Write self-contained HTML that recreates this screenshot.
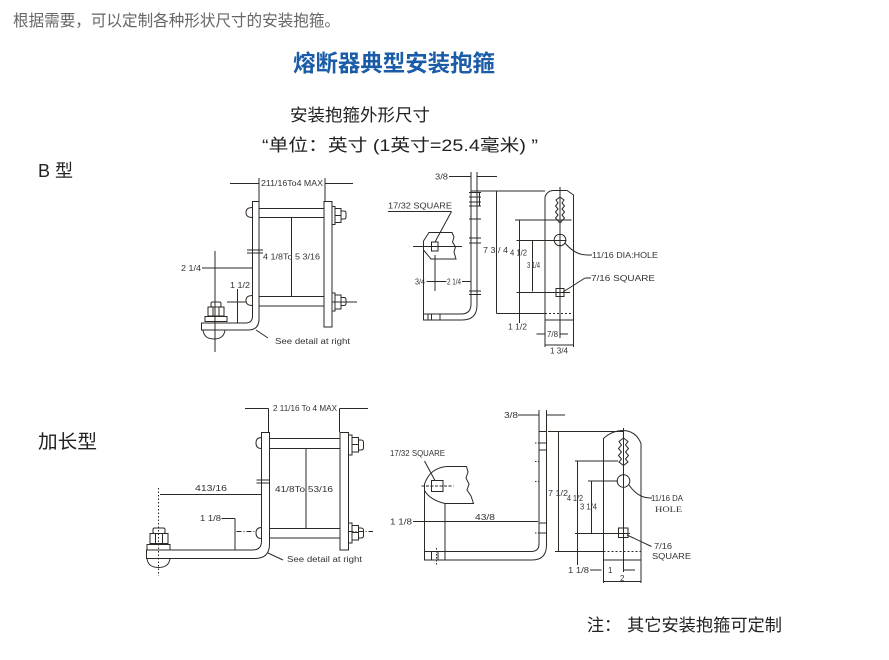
<!DOCTYPE html>
<html><head><meta charset="utf-8">
<style>
html,body{margin:0;padding:0;background:#fff;}
svg{display:block;}
</style></head><body>
<svg width="889" height="660" viewBox="0 0 889 660" xmlns="http://www.w3.org/2000/svg">
<!-- Header texts -->
<text x="13" y="26" font-size="16" fill="#666" font-family="'Liberation Sans','Noto Sans CJK SC',sans-serif" textLength="327" lengthAdjust="spacingAndGlyphs">根据需要，可以定制各种形状尺寸的安装抱箍。</text>
<text x="293" y="71" font-size="23" font-weight="bold" fill="#1a5ca8" font-family="'Liberation Sans','Noto Sans CJK SC',sans-serif" textLength="202" lengthAdjust="spacingAndGlyphs">熔断器典型安装抱箍</text>
<text x="290" y="121" font-size="17" fill="#222" font-family="'Liberation Sans','Noto Sans CJK SC',sans-serif" textLength="140" lengthAdjust="spacingAndGlyphs">安装抱箍外形尺寸</text>
<text x="262" y="151" font-size="17" fill="#222" font-family="'Liberation Sans','Noto Sans CJK SC',sans-serif" textLength="276" lengthAdjust="spacingAndGlyphs">“单位：英寸 (1英寸=25.4毫米) ”</text>
<text x="38" y="177" font-size="18" fill="#222" font-family="'Liberation Sans','Noto Sans CJK SC',sans-serif">B 型</text>
<text x="38" y="448" font-size="19" fill="#222" font-family="'Liberation Sans','Noto Sans CJK SC',sans-serif" textLength="59" lengthAdjust="spacingAndGlyphs">加长型</text>
<text x="587" y="631" font-size="17" fill="#222" font-family="'Liberation Sans','Noto Sans CJK SC',sans-serif">注：</text>
<text x="627" y="631" font-size="17" fill="#222" font-family="'Liberation Sans','Noto Sans CJK SC',sans-serif" textLength="155" lengthAdjust="spacingAndGlyphs">其它安装抱箍可定制</text>

<!-- ============ B type LEFT ============ -->
<g fill="none" stroke="#2e2824" stroke-width="1">
<path d="M252.5,201.5 L252.5,316 Q252.5,323 245.5,323 L201.5,323 L201.5,330 L248,330 Q259,330 259,319 L259,201.5 Z"/>
<rect x="259" y="208.5" width="65" height="9"/>
<rect x="259" y="296.5" width="65" height="9.5"/>
<rect x="324" y="201.5" width="8" height="125.5"/>
<rect x="332" y="206.5" width="3" height="18"/>
<rect x="335" y="208.5" width="6" height="14"/>
<line x1="335" y1="215.5" x2="341" y2="215.5"/>
<path d="M341,211 L344,211 Q346,211 346,213 L346,217 Q346,219 344,219 L341,219"/>
<rect x="332" y="293" width="3" height="18"/>
<rect x="335" y="295" width="6" height="14"/>
<line x1="335" y1="302" x2="341" y2="302"/>
<path d="M341,297.5 L344,297.5 Q346,297.5 346,299.5 L346,303.5 Q346,305.5 344,305.5 L341,305.5"/>
<path d="M252.5,207.5 Q246,207.5 246,212.5 Q246,217.5 252.5,217.5"/>
<path d="M252.5,295.5 Q246,295.5 246,300.5 Q246,305.5 252.5,305.5"/>
<line x1="291.5" y1="217.5" x2="291.5" y2="296.5"/>
<line x1="247" y1="250" x2="263" y2="250"/>
<line x1="247" y1="253" x2="263" y2="253"/>
<line x1="230" y1="183.5" x2="259" y2="183.5"/>
<line x1="325" y1="183.5" x2="353" y2="183.5"/>
<line x1="259" y1="178" x2="259" y2="201.5"/>
<line x1="325" y1="178" x2="325" y2="201.5"/>
<line x1="202" y1="268" x2="252.5" y2="268"/>
<line x1="215" y1="251" x2="215" y2="352"/>
<line x1="237.5" y1="289" x2="237.5" y2="323"/>
<line x1="227" y1="302" x2="246" y2="302"/>
<line x1="332" y1="302" x2="357" y2="302"/>
<rect x="211" y="302" width="10" height="5" rx="1.5"/>
<rect x="208" y="307" width="16" height="9"/>
<line x1="213" y1="307" x2="213" y2="316"/>
<line x1="219" y1="307" x2="219" y2="316"/>
<rect x="205" y="316.5" width="22" height="5"/>
<path d="M203,330 Q204,339 214,339 Q224,339 225,330"/>
<line x1="256" y1="330" x2="268" y2="338"/>
</g>
<g font-family="'Liberation Sans',sans-serif" font-size="8" fill="#333">
<text x="261" y="186" textLength="62" lengthAdjust="spacingAndGlyphs">211/16To4 MAX</text>
<text x="263" y="259.5" textLength="57" lengthAdjust="spacingAndGlyphs">4 1/8To  5 3/16</text>
<text x="181" y="271" textLength="20" lengthAdjust="spacingAndGlyphs">2 1/4</text>
<text x="230" y="288" textLength="20" lengthAdjust="spacingAndGlyphs">1 1/2</text>
<text x="275" y="344" textLength="75" lengthAdjust="spacingAndGlyphs">See detail at right</text>
</g>

<!-- ============ B type RIGHT ============ -->
<g fill="none" stroke="#2e2824" stroke-width="1">
<line x1="449" y1="176.5" x2="471" y2="176.5"/>
<line x1="477" y1="176.5" x2="497" y2="176.5"/>
<line x1="471" y1="172" x2="471" y2="191"/>
<line x1="477" y1="172" x2="477" y2="191"/>
<path d="M471,191 L471,304 Q471,314 461,314 L423.5,314 L423.5,320 L462,320 Q477,320 477,305 L477,191 Z"/>
<line x1="471" y1="191" x2="545" y2="191"/>
<line x1="428" y1="314" x2="428" y2="320"/>
<line x1="431.5" y1="314" x2="431.5" y2="320"/>
<line x1="440" y1="314" x2="440" y2="320"/>
<g>
<line x1="469" y1="192.5" x2="481" y2="192.5"/>
<line x1="469" y1="197" x2="481" y2="197"/>
<line x1="469" y1="202" x2="481" y2="202"/>
<line x1="469" y1="206" x2="481" y2="206"/>
<line x1="469" y1="219" x2="481" y2="219"/>
<line x1="469" y1="238" x2="481" y2="238"/>
<line x1="469" y1="243" x2="481" y2="243"/>
<line x1="469" y1="291" x2="481" y2="291"/>
<line x1="469" y1="294.5" x2="481" y2="294.5"/>
<line x1="479.5" y1="192" x2="479.5" y2="206"/>
</g>
<path d="M423.5,314 L423.5,241 L429,232.5 L452,232.5 L454,237 L452.5,242 L455.5,247 L454,252 L456,259 L431,259 L423.5,250"/>
<rect x="431.5" y="242" width="6.5" height="9"/>
<line x1="413" y1="246.5" x2="462" y2="246.5"/>
<line x1="435" y1="242" x2="451.5" y2="211.5"/>
<line x1="388" y1="211.5" x2="451.5" y2="211.5"/>
<line x1="435" y1="255" x2="435" y2="291"/>
<line x1="426.5" y1="281.5" x2="446.5" y2="281.5"/>
<line x1="462" y1="281.5" x2="471" y2="281.5"/>
<line x1="496.5" y1="191" x2="496.5" y2="313.5"/>
<line x1="496.5" y1="313.5" x2="545" y2="313.5"/>
<line x1="545" y1="313.5" x2="573.5" y2="313.5" stroke-dasharray="2 2"/>
<line x1="519.5" y1="220" x2="519.5" y2="323"/>
<line x1="515" y1="220" x2="571.5" y2="220"/>
<line x1="532.5" y1="240.5" x2="532.5" y2="291.5"/>
<line x1="516.5" y1="240.5" x2="566.5" y2="240.5"/>
<line x1="516.5" y1="292.5" x2="570" y2="292.5"/>
<path d="M545,347 L545,197 Q547,191 553,190.5 L567,190.5 L573.5,195 L573.5,347"/>
<line x1="545" y1="320" x2="573.5" y2="320"/>
<line x1="560" y1="187" x2="560" y2="338"/>
<path d="M560,197 L556,200 L558,203 L555.5,206 L558,209 L555.5,212 L558,215 L555.5,218 L560,223 L564.5,218 L562,215 L564.5,212 L562,209 L564.5,206 L562,203 L564,200 Z"/>
<circle cx="560" cy="240" r="5.8"/>
<rect x="556" y="288.5" width="8" height="8"/>
<path d="M565,243 Q575,255 587,255 L592,255"/>
<line x1="563" y1="292" x2="585" y2="278"/>
<line x1="585" y1="278" x2="591" y2="278"/>
<line x1="536.5" y1="334" x2="545" y2="334"/>
<line x1="560" y1="334" x2="568" y2="334"/>
<line x1="545" y1="345" x2="573.5" y2="345"/>
</g>
<g font-family="'Liberation Sans',sans-serif" font-size="8" fill="#333">
<text x="435" y="179.5" textLength="13" lengthAdjust="spacingAndGlyphs">3/8</text>
<text x="388" y="208.5" textLength="64" lengthAdjust="spacingAndGlyphs">17/32 SQUARE</text>
<text x="415" y="284.5" textLength="10" lengthAdjust="spacingAndGlyphs">3/4</text>
<text x="447" y="284.5" textLength="14" lengthAdjust="spacingAndGlyphs">2 1/4</text>
<rect x="484" y="245" width="9" height="8" fill="#fff"/>
<text x="483" y="253" textLength="25" lengthAdjust="spacingAndGlyphs">7 3 / 4</text>
<text x="510" y="255.5" textLength="17" lengthAdjust="spacingAndGlyphs">4 1/2</text>
<text x="527" y="268" textLength="13" lengthAdjust="spacingAndGlyphs">3 1/4</text>
<text x="508" y="329.5" textLength="19" lengthAdjust="spacingAndGlyphs">1 1/2</text>
<text x="547" y="337" textLength="11" lengthAdjust="spacingAndGlyphs">7/8</text>
<text x="550" y="353.5" textLength="18" lengthAdjust="spacingAndGlyphs">1 3/4</text>
<text x="592" y="258" textLength="66" lengthAdjust="spacingAndGlyphs">11/16 DIA:HOLE</text>
<text x="591" y="281" textLength="64" lengthAdjust="spacingAndGlyphs">7/16 SQUARE</text>
</g>

<!-- ============ LONG type LEFT ============ -->
<g fill="none" stroke="#2e2824" stroke-width="1">
<line x1="245" y1="408.5" x2="268.5" y2="408.5"/>
<line x1="339.5" y1="408.5" x2="368" y2="408.5"/>
<line x1="268.5" y1="408.5" x2="268.5" y2="432"/>
<line x1="339.5" y1="408.5" x2="339.5" y2="432"/>
<path d="M261.5,432.5 L261.5,541 Q261.5,550 252.5,550 L146.5,550 L146.5,558.5 L255,558.5 Q269.5,558.5 269.5,544 L269.5,432.5 Z"/>
<rect x="269.5" y="438.5" width="70.5" height="10"/>
<rect x="269.5" y="528.5" width="70.5" height="9.5"/>
<rect x="340" y="432.5" width="8.5" height="117.5"/>
<line x1="306" y1="448.5" x2="306" y2="528.5"/>
<rect x="348.5" y="435" width="3.5" height="20"/>
<rect x="352" y="437.5" width="6.5" height="14.5"/>
<line x1="352" y1="444.5" x2="358.5" y2="444.5"/>
<path d="M358.5,440 L361,440 Q363.5,440 363.5,442.5 L363.5,447.5 Q363.5,450 361,450 L358.5,450"/>
<rect x="348.5" y="523" width="3.5" height="20"/>
<rect x="352" y="525.5" width="6.5" height="14.5"/>
<line x1="352" y1="532.5" x2="358.5" y2="532.5"/>
<path d="M358.5,528 L361,528 Q363.5,528 363.5,530.5 L363.5,535.5 Q363.5,538 361,538 L358.5,538"/>
<path d="M261.5,437.5 Q256,437.5 256,443 Q256,448.5 261.5,448.5"/>
<path d="M261.5,527.5 Q256,527.5 256,533 Q256,538.5 261.5,538.5"/>
<line x1="256.5" y1="480" x2="270" y2="480"/>
<line x1="256.5" y1="483" x2="270" y2="483"/>
<line x1="160" y1="494.5" x2="261.5" y2="494.5"/>
<line x1="158.5" y1="488" x2="158.5" y2="576" stroke-dasharray="1.5 2"/>
<line x1="221.5" y1="518.5" x2="235" y2="518.5"/>
<line x1="235" y1="518.5" x2="235" y2="550"/>
<line x1="236.5" y1="531.5" x2="256" y2="531.5" stroke-dasharray="5 2 1 2"/>
<line x1="348.5" y1="531.5" x2="373" y2="531.5" stroke-dasharray="5 2 1 2"/>
<rect x="153" y="528" width="12" height="5.5" rx="1.5"/>
<rect x="150" y="533.5" width="18" height="10"/>
<line x1="155.5" y1="533.5" x2="155.5" y2="543.5"/>
<line x1="162.5" y1="533.5" x2="162.5" y2="543.5"/>
<rect x="147" y="544.5" width="23" height="5.5"/>
<path d="M147,558.5 Q148,567.5 158.5,567.5 Q169,567.5 170,558.5"/>
<line x1="268" y1="553" x2="283" y2="560"/>
</g>
<g font-family="'Liberation Sans',sans-serif" font-size="8" fill="#333">
<text x="273" y="411" textLength="64" lengthAdjust="spacingAndGlyphs">2 11/16 To 4 MAX</text>
<text x="275" y="492" textLength="58" lengthAdjust="spacingAndGlyphs">41/8To 53/16</text>
<text x="195" y="491" textLength="32" lengthAdjust="spacingAndGlyphs">413/16</text>
<text x="200" y="521" textLength="21" lengthAdjust="spacingAndGlyphs">1 1/8</text>
<text x="287" y="562" textLength="75" lengthAdjust="spacingAndGlyphs">See detail at right</text>
</g>

<!-- ============ LONG type RIGHT ============ -->
<g fill="none" stroke="#2e2824" stroke-width="1">
<line x1="518" y1="415" x2="539" y2="415"/>
<line x1="546.5" y1="415" x2="565" y2="415"/>
<line x1="539" y1="410" x2="539" y2="432"/>
<line x1="546.5" y1="410" x2="546.5" y2="432"/>
<path d="M539,431.5 L539,544 Q539,551.5 531,551.5 L424.5,551.5 L424.5,560 L532,560 Q546.5,560 546.5,545 L546.5,431.5 Z"/>
<line x1="539" y1="443" x2="546.5" y2="443"/>
<line x1="539" y1="450" x2="546.5" y2="450"/>
<line x1="539" y1="523" x2="546.5" y2="523"/>
<line x1="539" y1="533" x2="546.5" y2="533"/>
<line x1="535" y1="443" x2="539" y2="443" stroke-dasharray="1.5 1.5"/>
<line x1="535" y1="461.5" x2="539" y2="461.5" stroke-dasharray="1.5 1.5"/>
<line x1="535" y1="481.5" x2="539" y2="481.5" stroke-dasharray="1.5 1.5"/>
<line x1="535" y1="533" x2="539" y2="533" stroke-dasharray="1.5 1.5"/>
<line x1="431.5" y1="551.5" x2="431.5" y2="560"/>
<line x1="438" y1="551.5" x2="438" y2="560"/>
<line x1="445" y1="551.5" x2="445" y2="560"/>
<path d="M424.5,490.5 L424.5,484 Q430,468 446.5,466.5 L466.5,466.5 L468,472 L466,478 L469,484 L467,490 L471,496 L473.5,503.5 L445,503.5 Q430,500 424.5,490.5 Z"/>
<line x1="424.5" y1="490.5" x2="424.5" y2="551.5"/>
<line x1="445" y1="503.5" x2="445" y2="551.5"/>
<rect x="431.5" y="480.5" width="11.5" height="11"/>
<line x1="421.5" y1="486" x2="453.5" y2="486" stroke-dasharray="3 1.5"/>
<line x1="424.5" y1="461" x2="435" y2="480.5"/>
<line x1="413" y1="521.5" x2="538" y2="521.5"/>
<line x1="436.5" y1="548" x2="436.5" y2="566" stroke-dasharray="1.5 1.5"/>
<line x1="548" y1="431.5" x2="623" y2="431.5"/>
<line x1="558.5" y1="431.5" x2="558.5" y2="551.5"/>
<line x1="555" y1="551.5" x2="603.5" y2="551.5"/>
<line x1="603.5" y1="551.5" x2="641" y2="551.5" stroke-dasharray="2 2"/>
<line x1="577.5" y1="461" x2="577.5" y2="565"/>
<line x1="575" y1="461" x2="618" y2="461"/>
<line x1="591.5" y1="481" x2="591.5" y2="533.5"/>
<line x1="588" y1="481" x2="618" y2="481"/>
<line x1="575" y1="533.5" x2="630" y2="533.5"/>
<path d="M603.5,583 L603.5,438.5 Q612,430.5 623.5,430.5 Q636,431 641,443.5 L641,583"/>
<line x1="603.5" y1="560" x2="641" y2="560"/>
<line x1="623.5" y1="428" x2="623.5" y2="572"/>
<path d="M623.5,438 L619,441.5 L621.5,445 L618.5,448.5 L621.5,452 L618.5,455.5 L621.5,459 L619,462 L623.5,465.5 L628,462 L625.5,459 L628.5,455.5 L625.5,452 L628.5,448.5 L625.5,445 L628,441.5 Z"/>
<circle cx="623.5" cy="481" r="6.3"/>
<rect x="618.5" y="528" width="9.5" height="9.5"/>
<path d="M629,485 Q638,498 650,498 L652,498"/>
<line x1="627" y1="535" x2="651.5" y2="546.5"/>
<line x1="590" y1="570" x2="601.5" y2="570"/>
<line x1="623.5" y1="570" x2="635" y2="570"/>
<line x1="603.5" y1="581.5" x2="641" y2="581.5"/>
</g>
<g font-family="'Liberation Sans',sans-serif" font-size="8" fill="#333">
<text x="504" y="418" textLength="14" lengthAdjust="spacingAndGlyphs">3/8</text>
<text x="390" y="456" textLength="55" lengthAdjust="spacingAndGlyphs">17/32 SQUARE</text>
<text x="390" y="524.5" textLength="22" lengthAdjust="spacingAndGlyphs">1 1/8</text>
<text x="475" y="520" textLength="20" lengthAdjust="spacingAndGlyphs">43/8</text>
<text x="548" y="496" textLength="20" lengthAdjust="spacingAndGlyphs">7 1/2</text>
<text x="567" y="501" textLength="16" lengthAdjust="spacingAndGlyphs">4 1/2</text>
<text x="580" y="509.5" textLength="17" lengthAdjust="spacingAndGlyphs">3 1/4</text>
<text x="651" y="501" textLength="32" lengthAdjust="spacingAndGlyphs">11/16 DA</text>
<text x="655" y="512" textLength="27" lengthAdjust="spacingAndGlyphs" font-family="'Liberation Serif',serif">HOLE</text>
<text x="654" y="549" textLength="18" lengthAdjust="spacingAndGlyphs">7/16</text>
<text x="652" y="559" textLength="39" lengthAdjust="spacingAndGlyphs">SQUARE</text>
<text x="568" y="573" textLength="21" lengthAdjust="spacingAndGlyphs">1 1/8</text>
<text x="608" y="573">1</text>
<text x="620" y="581">2</text>
</g>
</svg>
</body></html>
